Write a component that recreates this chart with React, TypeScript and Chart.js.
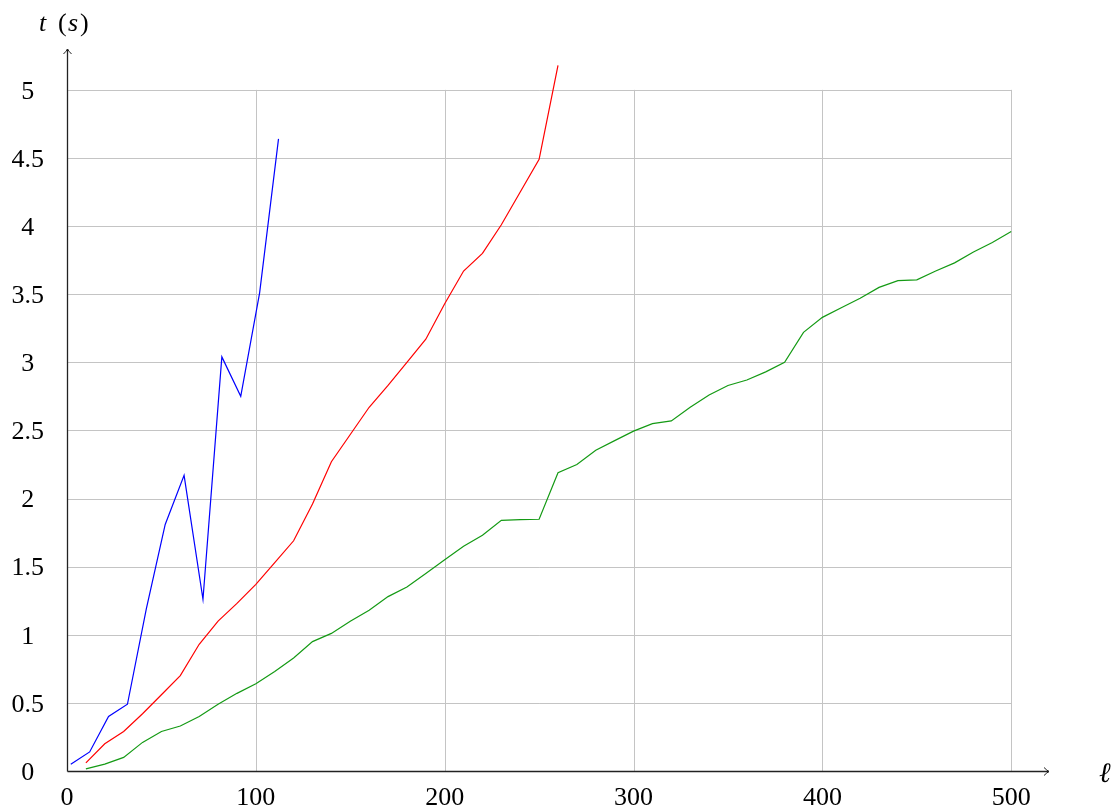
import React, { useEffect, useRef } from 'react';
import { Chart, registerables } from 'chart.js';

Chart.register(...registerables);

// ---- data ----
const blueX = [2, 12, 22, 32, 42, 52, 62, 72, 82, 92, 102, 112];
const blueY = [0.05, 0.14, 0.40, 0.49, 1.19, 1.81, 2.17, 1.26, 3.04, 2.75, 3.51, 4.64];

const redX = [10, 20, 30, 40, 50, 60, 70, 80, 90, 100, 110, 120, 130, 140, 150, 160, 170, 180, 190, 200, 210, 220, 230, 240, 250, 260];
const redY = [0.06, 0.20, 0.29, 0.42, 0.56, 0.70, 0.93, 1.10, 1.23, 1.37, 1.53, 1.69, 1.96, 2.27, 2.47, 2.67, 2.83, 3.00, 3.17, 3.43, 3.67, 3.80, 4.01, 4.25, 4.49, 5.18];

const greenX = [10, 20, 30, 40, 50, 60, 70, 80, 90, 100, 110, 120, 130, 140, 150, 160, 170, 180, 190, 200, 210, 220, 230, 240, 250,
  260, 270, 280, 290, 300, 310, 320, 330, 340, 350, 360, 370, 380, 390, 400, 410, 420, 430, 440, 450, 460, 470, 480, 490, 500];
const greenY = [0.015, 0.05, 0.10, 0.21, 0.29, 0.33, 0.40, 0.49, 0.57, 0.64, 0.73, 0.83, 0.95, 1.01, 1.10, 1.18, 1.28, 1.35, 1.45, 1.55, 1.65, 1.73, 1.84, 1.845, 1.848,
  2.19, 2.25, 2.355, 2.425, 2.495, 2.55, 2.57, 2.67, 2.76, 2.83, 2.87, 2.93, 3.00, 3.22, 3.33, 3.40, 3.47, 3.55, 3.60, 3.605, 3.67, 3.73, 3.81, 3.88, 3.96];

const xTicks = [0, 100, 200, 300, 400, 500];
const yTicks = [0, 0.5, 1, 1.5, 2, 2.5, 3, 3.5, 4, 4.5, 5];
const xAxisMax = 520;
const yAxisMax = 5.3;

const toPoints = (xs: number[], ys: number[]) => xs.map((x, i) => ({ x, y: ys[i] }));

const SERIF = '"Liberation Serif", "DejaVu Serif", serif';

const pgfPlugin = {
  id: 'pgfAxes',
  beforeDatasetsDraw(chart: any) {
    const { ctx, scales } = chart;
    const xs = scales.x, ys = scales.y;
    const x0 = xs.getPixelForValue(0), xE = xs.getPixelForValue(xTicks[xTicks.length - 1]);
    const y0 = ys.getPixelForValue(0), yE = ys.getPixelForValue(yTicks[yTicks.length - 1]);
    ctx.save();
    ctx.strokeStyle = '#c4c4c4';
    ctx.lineWidth = 1;
    ctx.beginPath();
    xTicks.forEach((v) => {
      if (v === 0) return;
      const p = Math.round(xs.getPixelForValue(v)) + 0.5;
      ctx.moveTo(p, y0);
      ctx.lineTo(p, yE);
    });
    yTicks.forEach((v) => {
      if (v === 0) return;
      const p = Math.round(ys.getPixelForValue(v)) + 0.5;
      ctx.moveTo(x0, p);
      ctx.lineTo(xE, p);
    });
    ctx.stroke();
    ctx.restore();
  },
  afterDatasetsDraw(chart: any) {
    const { ctx, scales, chartArea } = chart;
    const xs = scales.x, ys = scales.y;
    const ox = Math.round(xs.getPixelForValue(0)) + 0.5;
    const oy = Math.round(ys.getPixelForValue(0)) + 0.5;
    const right = chartArea.right;
    const top = chartArea.top;
    ctx.save();
    ctx.strokeStyle = '#222';
    ctx.lineWidth = 1.3;
    ctx.beginPath();
    ctx.moveTo(ox, oy);
    ctx.lineTo(right, oy);
    ctx.moveTo(ox, oy);
    ctx.lineTo(ox, top);
    ctx.stroke();
    // arrow heads
    ctx.lineWidth = 1;
    ctx.beginPath();
    ctx.moveTo(right - 5, oy - 4);
    ctx.quadraticCurveTo(right - 2, oy - 1, right, oy);
    ctx.quadraticCurveTo(right - 2, oy + 1, right - 5, oy + 4);
    ctx.moveTo(ox - 4, top + 5);
    ctx.quadraticCurveTo(ox - 1, top + 2, ox, top);
    ctx.quadraticCurveTo(ox + 1, top + 2, ox + 4, top + 5);
    ctx.stroke();

    // axis labels
    ctx.fillStyle = '#000';
    ctx.textBaseline = 'alphabetic';
    ctx.textAlign = 'left';
    ctx.font = `italic 26px ${SERIF}`;
    ctx.fillText('t', 39, 31);
    ctx.font = `26px ${SERIF}`;
    ctx.fillText('(', 58, 31);
    ctx.font = `italic 26px ${SERIF}`;
    ctx.fillText('s', 68, 31);
    ctx.font = `26px ${SERIF}`;
    ctx.fillText(')', 80, 31);
    ctx.font = `italic 28px "DejaVu Serif", serif`;
    ctx.fillText('\u2113', 1099, 782);
    ctx.restore();
  },
};

export default function App() {
  const ref = useRef<HTMLCanvasElement | null>(null);
  useEffect(() => {
    if (!ref.current) return;
    const fmt = (v: any) => String(+Number(v).toFixed(2));
    const chart = new Chart(ref.current, {
      type: 'line',
      data: {
        datasets: [
          { data: toPoints(blueX, blueY), borderColor: '#0000ff', borderWidth: 1.2, pointRadius: 0, tension: 0, fill: false },
          { data: toPoints(redX, redY), borderColor: '#ff0000', borderWidth: 1.2, pointRadius: 0, tension: 0, fill: false },
          { data: toPoints(greenX, greenY), borderColor: '#149a14', borderWidth: 1.2, pointRadius: 0, tension: 0, fill: false },
        ],
      },
      options: {
        animation: false,
        responsive: false,
        maintainAspectRatio: false,
        layout: { padding: { top: 49, right: 67, bottom: 0, left: 0 } },
        plugins: { legend: { display: false }, tooltip: { enabled: false } },
        scales: {
          x: {
            type: 'linear',
            min: 0,
            max: xAxisMax,
            grid: { display: false, drawTicks: false },
            border: { display: false },
            afterFit: (s: any) => { s.height = 41; },
            afterBuildTicks: (s: any) => { s.ticks = xTicks.map((v) => ({ value: v })); },
            ticks: { padding: 12, color: '#000', font: { family: SERIF, size: 26 }, maxRotation: 0, autoSkip: false, callback: fmt },
          },
          y: {
            type: 'linear',
            min: 0,
            max: yAxisMax,
            grid: { display: false, drawTicks: false },
            border: { display: false },
            afterFit: (s: any) => { s.width = 67; },
            afterBuildTicks: (s: any) => { s.ticks = yTicks.map((v) => ({ value: v })); },
            ticks: { padding: 23, crossAlign: 'center', labelOffset: 2, color: '#000', font: { family: SERIF, size: 26 }, autoSkip: false, callback: fmt },
          },
        },
      },
      plugins: [pgfPlugin],
    } as any);
    return () => chart.destroy();
  }, []);
  return (
    <div style={{ position: 'fixed', left: 0, top: 0, width: 1116, height: 812, background: '#fff' }}>
      <canvas ref={ref} width={1116} height={812} style={{ display: 'block', width: 1116, height: 812 }} />
    </div>
  );
}
